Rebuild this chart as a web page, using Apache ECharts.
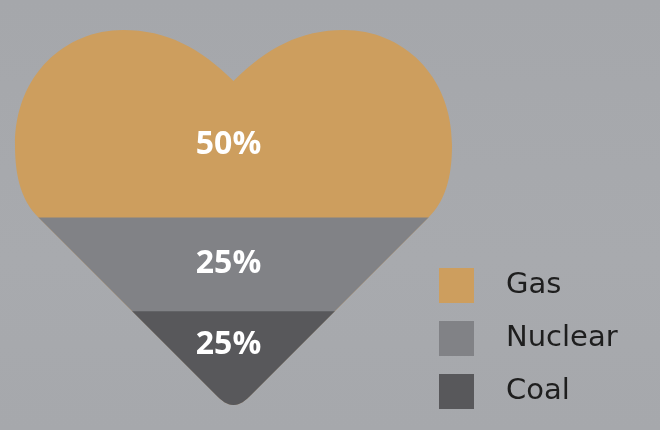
<!DOCTYPE html>
<html>
<head>
<meta charset="utf-8">
<script src="https://cdn.jsdelivr.net/npm/echarts@6/dist/echarts.min.js"></script>
<style>
html,body{margin:0;padding:0;}
#chart{width:660px;height:430px;}
</style>
</head>
<body>
<div id="chart"></div>
<script>
// Data (top band to bottom band)
var categories = ['Energy mix'];
var sourceNames = ['Gas', 'Nuclear', 'Coal'];
var shares = [50, 25, 25];
var sourceColors = ['#cd9e5e', '#818286', '#58585b'];

var HEART = 'path://M218.5 51 C185 18 152 0 108 0 C50 0 0 45 0 115 C0 150 8 172 23 187 ' +
  'L200 364 C207 371 212 375 218.5 375 C225 375 230 371 237 364 L414 187 ' +
  'C429 172 437 150 437 115 C437 45 387 0 329 0 C285 0 252 18 218.5 51 Z';

// cumulative tops, stacked from the bottom band (Coal) upward
var tops = [];
var acc = 0;
for (var i = shares.length - 1; i >= 0; i--) { acc += shares[i]; tops[i] = acc; }
var total = acc;

var chart = echarts.init(document.getElementById('chart'), null, {renderer: 'canvas'});
var series = [];
sourceNames.forEach(function (name, i) {
  series.push({
    type: 'pictorialBar',
    name: name,
    symbol: HEART,
    symbolClip: true,
    symbolBoundingData: total,
    symbolSize: [437, '100%'],
    barGap: '-100%',
    z: 2 + i,
    itemStyle: {color: sourceColors[i]},
    label: {show: false},
    data: [tops[i]]
  });
});
var labelOffsets = [[-5, 21], [-5, 0], [-5, -13]];
for (var j = sourceNames.length - 1; j >= 0; j--) {
  series.push({
    type: 'bar',
    name: sourceNames[j] + ' label',
    stack: 'labels',
    barWidth: 437,
    z: 20,
    itemStyle: {color: 'rgba(0,0,0,0)'},
    label: {
      show: true, position: 'inside', formatter: '{c}%',
      color: '#ffffff', fontFamily: 'Open Sans', fontWeight: 'bold', fontSize: 32,
      offset: labelOffsets[j]
    },
    data: [shares[j]]
  });
}

chart.setOption({
  animation: false,
  backgroundColor: {
    type: 'linear', x: 0, y: 0, x2: 0, y2: 1,
    colorStops: [{offset: 0, color: '#a5a7ab'}, {offset: 0.6, color: '#a8aaae'}, {offset: 1, color: '#a6a8ac'}]
  },
  grid: {left: 15, top: 30, width: 437, height: 375, containLabel: false},
  xAxis: {type: 'category', data: categories, show: false},
  yAxis: {type: 'value', min: 0, max: total, show: false, splitLine: {show: false}},
  legend: {
    data: sourceNames,
    orient: 'vertical',
    left: 439, top: 268,
    padding: 0,
    icon: 'rect',
    itemWidth: 35, itemHeight: 35, itemGap: 18,
    selectedMode: false,
    textStyle: {fontFamily: 'DejaVu Sans', fontSize: 29, color: '#1e1e1e', padding: [0, 0, 0, 27]}
  },
  series: series
});
</script>
</body>
</html>
